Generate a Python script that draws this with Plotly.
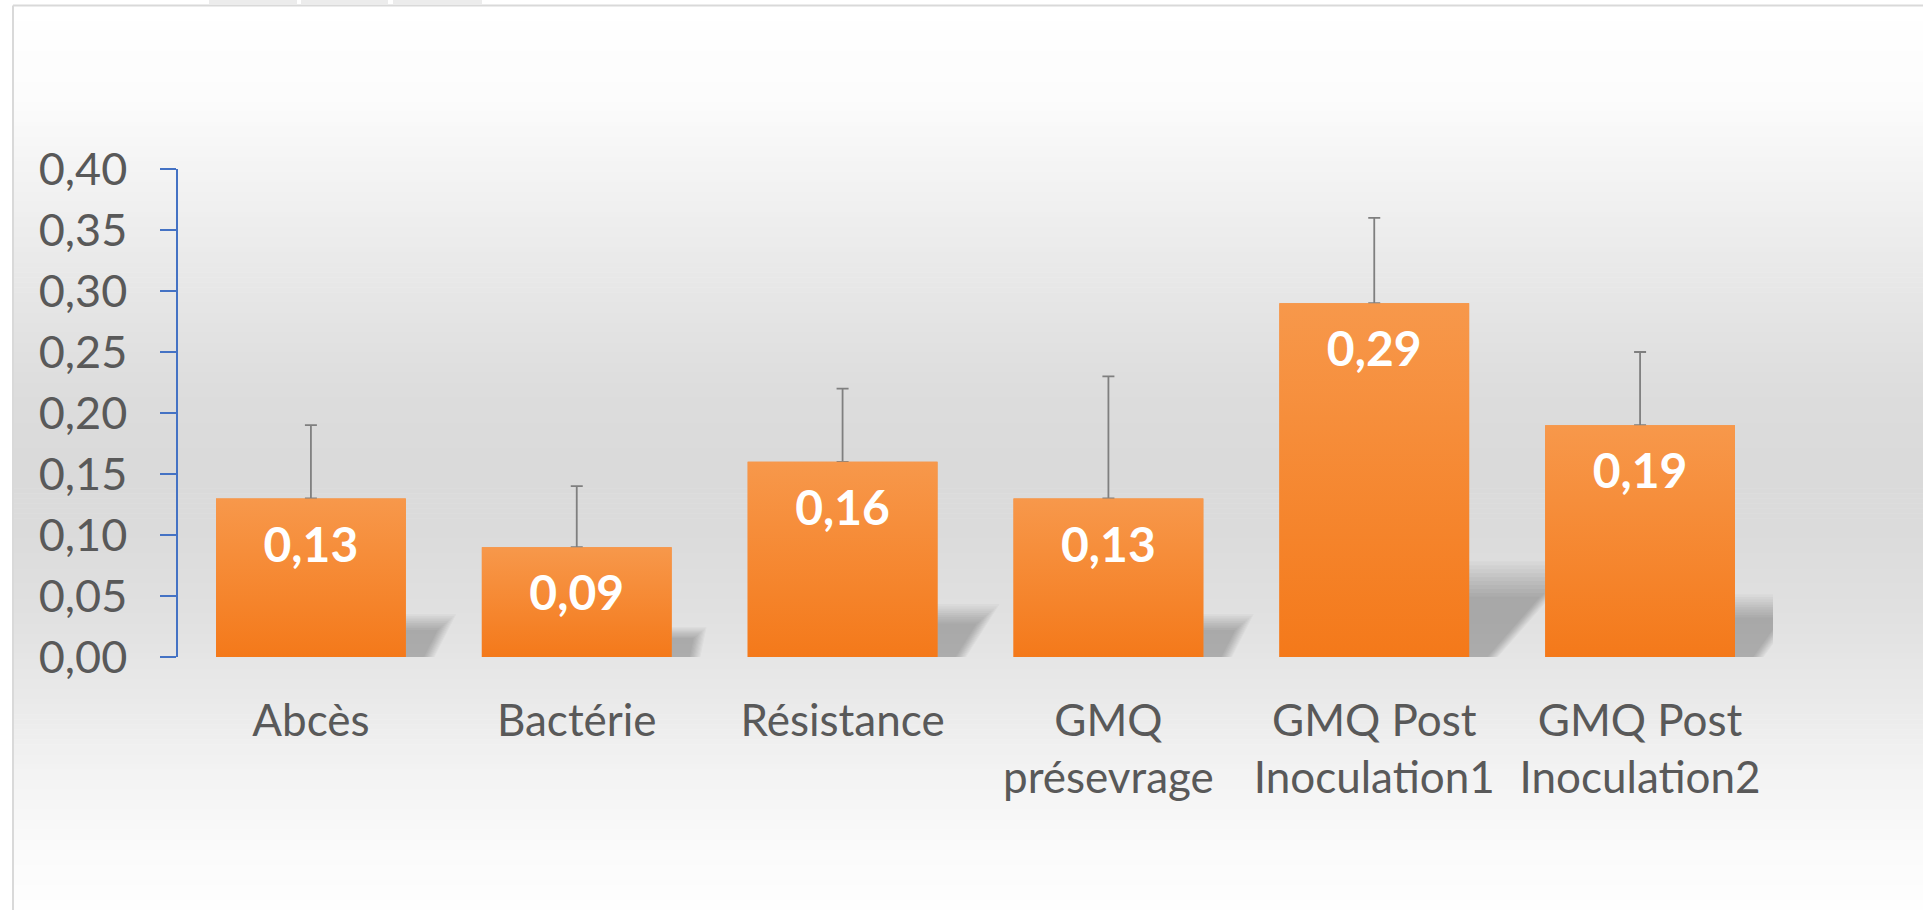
import plotly.graph_objects as go

# ---------------- data ----------------
categories = ["Abcès", "Bactérie", "Résistance", "GMQ<br>présevrage",
              "GMQ Post<br>Inoculation1", "GMQ Post<br>Inoculation2"]
values = [0.13, 0.09, 0.16, 0.13, 0.29, 0.19]
errors_plus = [0.06, 0.05, 0.06, 0.10, 0.07, 0.06]
y_ticks = [0.00, 0.05, 0.10, 0.15, 0.20, 0.25, 0.30, 0.35, 0.40]

# ---------------- style / layout constants ----------------
W, H = 1923, 910
ML, MR, MT, MB = 178, 150, 169, 253
PW, PH = W - ML - MR, H - MT - MB
BAR_W = 0.714
FONT = "Lato"
TXT = "#595959"
AXIS_BLUE = "#4472C4"
BAR_SOLID = "#F58A35"
BAR_BOTTOM = "#F4791A"
BAR_TOP = "#F7984B"
LABEL_OFFSET = 0.042      # label centre below bar top (data units)


def px_x(p):
    return (p - ML) / PW


def px_y(p):
    return (H - MB - p) / PH


idx = list(range(len(categories)))
labels = [f"{v:.2f}".replace(".", ",") for v in values]

fig = go.Figure()

# main bars (solid), with plus-only error bars
fig.add_trace(go.Bar(
    x=idx, y=values, width=BAR_W,
    marker=dict(color=BAR_SOLID, line=dict(width=0)),
    error_y=dict(type="data", array=errors_plus, arrayminus=[0] * len(values),
                 symmetric=False, color="#7F7F7F", thickness=1.8, width=6),
    hoverinfo="skip", showlegend=False,
))

# vertical gradient overlay for each bar, derived from the bar values
for i, v in zip(idx, values):
    x0, x1 = i - BAR_W / 2, i + BAR_W / 2
    fig.add_trace(go.Scatter(
        x=[x0, x1, x1, x0, x0], y=[0, 0, v, v, 0],
        mode="lines", line=dict(width=0), fill="toself",
        fillgradient=dict(type="vertical",
                          colorscale=[[0, BAR_BOTTOM], [1, BAR_TOP]]),
        hoverinfo="skip", showlegend=False,
    ))

# value labels inside bars
fig.add_trace(go.Scatter(
    x=idx, y=[v - LABEL_OFFSET for v in values], text=labels,
    mode="text", textposition="middle center",
    textfont=dict(family=FONT, size=48, color="white", weight="bold"),
    hoverinfo="skip", showlegend=False,
))

shapes = []

# chart-area background: vertical gray gradient (white -> gray -> white)
stops = [(0.00, 255), (0.10, 252), (0.18, 244), (0.30, 232), (0.42, 221),
         (0.50, 218), (0.58, 219), (0.68, 225), (0.76, 233), (0.86, 244),
         (0.94, 251), (1.00, 254)]
top_px, bot_px = 6, H
n_bands = 180


def grey_at(t):
    for (t0, g0), (t1, g1) in zip(stops[:-1], stops[1:]):
        if t0 <= t <= t1:
            return g0 + (g1 - g0) * (t - t0) / (t1 - t0)
    return stops[-1][1]


band_h = (bot_px - top_px) / n_bands
for k in range(n_bands):
    p0 = top_px + k * band_h
    p1 = p0 + band_h + 0.6
    g = round(grey_at((k + 0.5) / n_bands))
    shapes.append(dict(type="rect", xref="paper", yref="paper", layer="below",
                       x0=px_x(13), x1=px_x(W + 2), y0=px_y(p1), y1=px_y(p0),
                       line=dict(width=0), fillcolor=f"rgb({g},{g},{g})"))

# chart border (left and top)
shapes.append(dict(type="line", xref="paper", yref="paper", layer="below",
                   x0=px_x(13), x1=px_x(13), y0=px_y(H + 2), y1=px_y(5.5),
                   line=dict(color="#D9D9D9", width=2)))
shapes.append(dict(type="line", xref="paper", yref="paper", layer="below",
                   x0=px_x(13), x1=px_x(W + 2), y0=px_y(5.5), y1=px_y(5.5),
                   line=dict(color="#D9D9D9", width=2)))
# small tabs at the very top
for a, b in [(209, 297), (301, 388), (393, 482)]:
    shapes.append(dict(type="rect", xref="paper", yref="paper", layer="below",
                       x0=px_x(a), x1=px_x(b), y0=px_y(5), y1=px_y(-2),
                       line=dict(width=0), fillcolor="#ECECEC"))

# soft perspective shadows behind each bar (derived from the bar values)
n_blur = 10
for i, v in zip(idx, values):
    r = i + BAR_W / 2
    h = 0.25 * v
    L = 1.35 * v
    for k in range(n_blur):
        grow = 1.08 - 0.40 * k / (n_blur - 1)
        shapes.append(dict(
            type="path", xref="x", yref="y", layer="below",
            path=f"M {r - 0.02},0 L {r - 0.02},{h * grow} "
                 f"L {r + L * grow},{h * grow} L {r + 0.10 * grow},0 Z",
            line=dict(width=0), fillcolor="rgba(40,40,40,0.033)"))

fig.update_layout(
    width=W, height=H,
    margin=dict(l=ML, r=MR, t=MT, b=MB, pad=0),
    paper_bgcolor="white", plot_bgcolor="rgba(0,0,0,0)",
    separators=", ",
    font=dict(family=FONT, color=TXT),
    shapes=shapes,
    showlegend=False,
    bargap=1 - BAR_W,
    xaxis=dict(range=[-0.5, len(categories) - 0.5], tickvals=idx,
               ticktext=categories, showline=False, showgrid=False,
               zeroline=False, ticks="", tickfont=dict(family=FONT, size=44, color=TXT),
               ticklabelstandoff=34, fixedrange=True),
    yaxis=dict(range=[0, 0.40], tickvals=y_ticks, tickformat=".2f",
               showline=True, linecolor=AXIS_BLUE, linewidth=1.5,
               ticks="outside", ticklen=16, tickwidth=1.5, tickcolor=AXIS_BLUE,
               showgrid=False, zeroline=False,
               tickfont=dict(family=FONT, size=45, color=TXT),
               ticklabelstandoff=24, fixedrange=True),
)

fig.write_html("out.html", config={"displayModeBar": False},
               post_script="document.body.style.margin='0px';")
